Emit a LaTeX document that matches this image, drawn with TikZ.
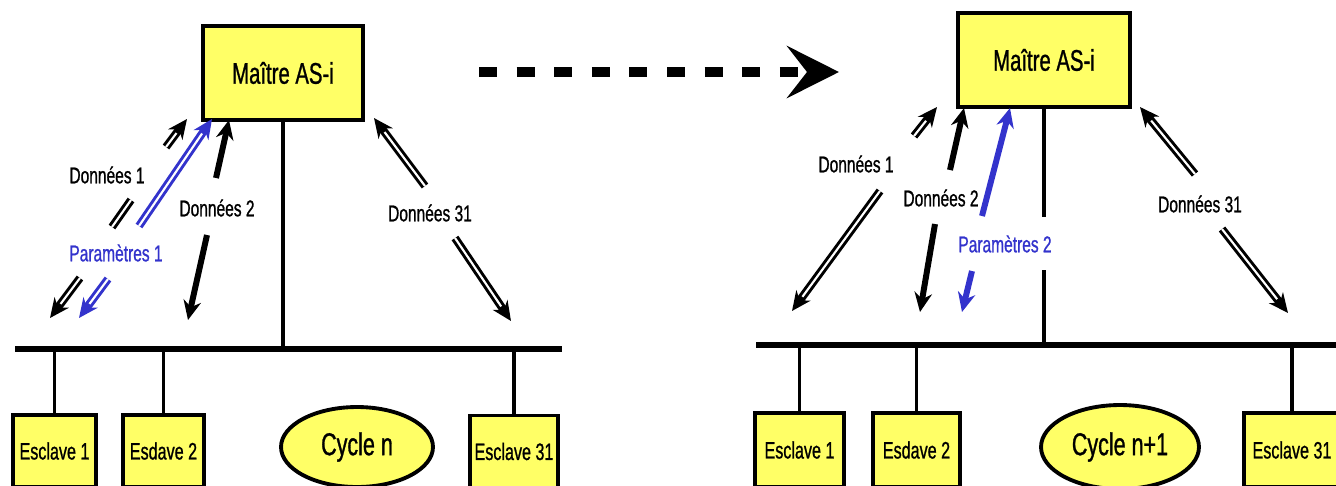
\documentclass[tikz,border=0pt]{standalone}
\usepackage{fontspec}
\newfontfamily\narrowfont[FakeStretch=0.68,FakeBold=0.9]{Liberation Sans}
\usepackage{tikz}
\usetikzlibrary{arrows.meta,shapes.geometric}
\definecolor{asiyellow}{RGB}{255,255,102}
\definecolor{asiblue}{RGB}{51,51,204}

\begin{document}
\begin{tikzpicture}[x=0.02cm,y=-0.02cm,
  box/.style={draw,line width=2pt,fill=asiyellow,inner sep=0pt,font=\narrowfont\fontsize{13.5}{15}\selectfont},
  master/.style={box,line width=1.8pt,font=\narrowfont\fontsize{17}{19}\selectfont},
  cyc/.style={ellipse,draw,line width=2.2pt,fill=asiyellow,inner sep=0pt,font=\narrowfont\fontsize{18}{20}\selectfont},
  lbl/.style={inner sep=0pt,font=\narrowfont\fontsize{13}{15}\selectfont},
  bus/.style={line width=3pt},
  drop/.style={line width=2pt},
  dbl/.style={line width=4.6pt,postaction={draw=white,line width=1.2pt,-}},
  dblh/.style={line width=4.6pt,headto,postaction={draw=white,line width=1.2pt,-,shorten >=10pt}},
  thk/.style={line width=3.4pt},
  headto/.style={-{Stealth[length=11pt,width=10pt]}}]
  \useasboundingbox (0,0) rectangle (1336,485);
  \clip (0,0) rectangle (1336,485);
  % cycle n
  \node[master,minimum width=3.2cm,minimum height=1.88cm] (mA) at (283,73) {Maître AS-i};
  \node[box,minimum width=1.66cm,minimum height=1.44cm] (e1A) at (54.5,451) {Esclave 1};
  \node[box,minimum width=1.62cm,minimum height=1.44cm] (e2A) at (163.5,451) {Esdave 2};
  \node[cyc,minimum width=3.04cm,minimum height=1.6cm] (cA) at (357,447) {Cycle n};
  \node[box,minimum width=1.76cm,minimum height=1.44cm] (e31A) at (514,451.5) {Esclave 31};
  \coordinate (busAw) at (15,349);
  \coordinate (busAe) at (562,349);
  \draw[bus] (busAw) -- (busAe);
  \draw[drop,line width=2.6pt] (mA.south) -- (mA.south |- busAw);
  \foreach \s in {e1A,e2A,e31A}
    \draw[drop] (\s.north) -- (\s.north |- busAw);
  \node[lbl] (d1A) at (107,175) {Données 1};
  \node[lbl,text=asiblue] (p1A) at (116,253) {Paramètres 1};
  \node[lbl] (d2A) at (217,208) {Données 2};
  \node[lbl] (d31A) at (430,213) {Données 31};
  % Données 1 / Paramètres 1
  \draw[dblh] (166,147) -- (187,119);
  \draw[dbl] (131,200) -- (112,227);
  \draw[dblh] (80,278) -- (50,318);
  \draw[dblh,draw=asiblue] (139,226) -- (212,119);
  \draw[dblh,draw=asiblue] (108,279) -- (79,318);
  % Données 2
  \draw[thk,headto] (216,178) -- (229,120);
  \draw[thk,headto] (207,235) -- (188,320);
  % Données 31
  \draw[dblh] (425,186) -- (374,118);
  \draw[dblh] (455,238) -- (511,321);
  % next cycle
  \coordinate (goA) at (479,72);
  \coordinate (goB) at (839,72);
  \draw[line width=5.7pt,dash pattern=on 10.2pt off 11.2pt,
    -{Stealth[length=29.6pt,width=29.6pt,inset=11.4pt]}] (goA) -- (goB);
  % cycle n+1
  \node[master,minimum width=3.44cm,minimum height=1.88cm] (mB) at (1044,60) {Maître AS-i};
  \node[box,minimum width=1.78cm,minimum height=1.48cm] (e1B) at (799.5,450) {Esclave 1};
  \node[box,minimum width=1.74cm,minimum height=1.48cm] (e2B) at (916.5,450) {Esdave 2};
  \node[cyc,minimum width=3.16cm,minimum height=1.68cm] (cB) at (1120,447) {Cycle n+1};
  \node[box,minimum width=1.92cm,minimum height=1.48cm] (e31B) at (1292,450) {Esclave 31};
  \coordinate (busBw) at (756,345);
  \coordinate (busBe) at (1340,345);
  \coordinate (gapB1) at (1044,217);
  \coordinate (gapB2) at (1044,270);
  \draw[bus] (busBw) -- (busBe);
  \draw[drop,line width=2.6pt] (mB.south) -- (gapB1);
  \draw[drop,line width=2.6pt] (gapB2) -- (gapB2 |- busBw);
  \foreach \s in {e1B,e2B,e31B}
    \draw[drop] (\s.north) -- (\s.north |- busBw);
  \node[lbl] (d1B) at (856,164) {Données 1};
  \node[lbl] (d2B) at (941,198) {Données 2};
  \node[lbl,text=asiblue] (p2B) at (1005,244) {Paramètres 2};
  \node[lbl] (d31B) at (1200,204) {Données 31};
  % Données 1
  \draw[dblh] (914,136) -- (937,107);
  \draw[dblh] (880,191) -- (792,311);
  % Données 2
  \draw[thk,headto] (950,170) -- (964,108);
  \draw[thk,headto] (935,224) -- (920,312);
  % Paramètres 2
  \draw[thk,draw=asiblue,headto] (982,216) -- (1010,108);
  \draw[thk,draw=asiblue,headto] (972,271) -- (962,312);
  % Données 31
  \draw[dblh] (1195,174) -- (1140,107);
  \draw[dblh] (1222,229) -- (1288,313);
\end{tikzpicture}
\end{document}
